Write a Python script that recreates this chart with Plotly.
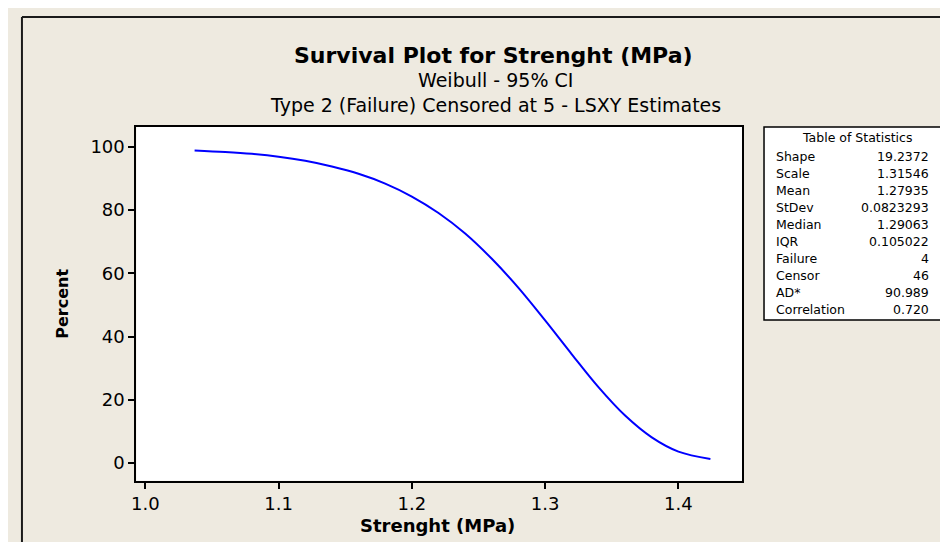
import plotly.graph_objects as go

# ---- data ----
strength = [1.037, 1.06, 1.08, 1.10, 1.12, 1.14, 1.16, 1.18, 1.20, 1.22,
            1.24, 1.26, 1.28, 1.30, 1.32, 1.34, 1.36, 1.38, 1.40, 1.424]
percent = [98.9, 98.4, 97.8, 96.9, 95.6, 93.8, 91.5, 88.4, 84.3, 79.1,
           72.6, 64.6, 55.4, 45.1, 34.4, 24.0, 15.0, 8.1, 3.6, 1.3]

x_ticks = [1.0, 1.1, 1.2, 1.3, 1.4]
x_tick_labels = ["1.0", "1.1", "1.2", "1.3", "1.4"]
y_ticks = [0, 20, 40, 60, 80, 100]
y_tick_labels = ["0", "20", "40", "60", "80", "100"]

stat_labels = ["Shape", "Scale", "Mean", "StDev", "Median", "IQR",
               "Failure", "Censor", "AD*", "Correlation"]
stat_values = ["19.2372", "1.31546", "1.27935", "0.0823293", "1.29063",
               "0.105022", "4", "46", "90.989", "0.720"]

title = "Survival Plot for Strenght (MPa)"
subtitle1 = "Weibull - 95% CI"
subtitle2 = "Type 2 (Failure) Censored at 5 - LSXY Estimates"

W, H = 948, 542
FONT = "DejaVu Sans"
BG = "#EEEAE0"


def px(x):
    return x / W


def py(y):
    return 1 - y / H


fig = go.Figure()
fig.add_trace(go.Scatter(
    x=strength, y=percent, mode="lines",
    line=dict(color="#0000FF", width=2, shape="spline"),
    hoverinfo="skip", showlegend=False,
))

axis_common = dict(
    showgrid=False, zeroline=False, showline=True, linecolor="black",
    linewidth=2, mirror=True, ticks="outside", ticklen=6, tickwidth=1.5,
    tickcolor="black", tickfont=dict(family=FONT, size=18, color="black"),
)

fig.update_layout(
    width=W, height=H,
    margin=dict(l=0, r=0, t=0, b=0),
    paper_bgcolor=BG, plot_bgcolor="white",
    xaxis=dict(domain=[px(124), px(733)], range=[0.9933, 1.4478],
               tickvals=x_ticks, ticktext=x_tick_labels, **axis_common),
    yaxis=dict(domain=[py(472.7), py(119)], range=[-5.6, 106.3],
               tickvals=y_ticks, ticktext=y_tick_labels, **axis_common),
    showlegend=False,
)

ann = []
ann.append(dict(text="<b>" + title + "</b>", x=px(483), y=py(47),
                font=dict(family=FONT, size=22, color="black")))
ann.append(dict(text=subtitle1, x=px(485), y=py(72),
                font=dict(family=FONT, size=19, color="black")))
ann.append(dict(text=subtitle2, x=px(485), y=py(97),
                font=dict(family=FONT, size=19, color="black")))
ann.append(dict(text="<b>Strenght (MPa)</b>", x=px(427), y=py(517),
                font=dict(family=FONT, size=18, color="black")))
ann.append(dict(text="<b>Percent</b>", x=px(49), y=py(296), textangle=-90,
                font=dict(family=FONT, size=16, color="black")))
ann.append(dict(text="Table of Statistics", x=px(848), y=py(130),
                font=dict(family=FONT, size=12.5, color="black")))
for i, (lab, val) in enumerate(zip(stat_labels, stat_values)):
    yy = py(148 + 17.1 * i)
    ann.append(dict(text=lab, x=px(765), y=yy, xanchor="left",
                    font=dict(family=FONT, size=12.5, color="black")))
    ann.append(dict(text=val, x=px(923), y=yy, xanchor="right",
                    font=dict(family=FONT, size=12.5, color="black")))

for a in ann:
    a.setdefault("xanchor", "center")
    a["yanchor"] = "middle"
    a["xref"] = "paper"
    a["yref"] = "paper"
    a["showarrow"] = False
fig.update_layout(annotations=ann)

shapes = [
    # statistics table box
    dict(type="rect", xref="paper", yref="paper", x0=px(755), x1=px(943),
         y0=py(312), y1=py(119), fillcolor="white",
         line=dict(color="black", width=1.5), layer="below"),
    # outer frame (left and top edges visible)
    dict(type="line", xref="paper", yref="paper", x0=px(9), x1=px(9),
         y0=0, y1=py(9), line=dict(color="#1a1a1a", width=2)),
    dict(type="line", xref="paper", yref="paper", x0=px(9), x1=1,
         y0=py(9), y1=py(9), line=dict(color="#1a1a1a", width=2)),
]
fig.update_layout(shapes=shapes)

fig.write_html("out.html", config=dict(displayModeBar=False))
